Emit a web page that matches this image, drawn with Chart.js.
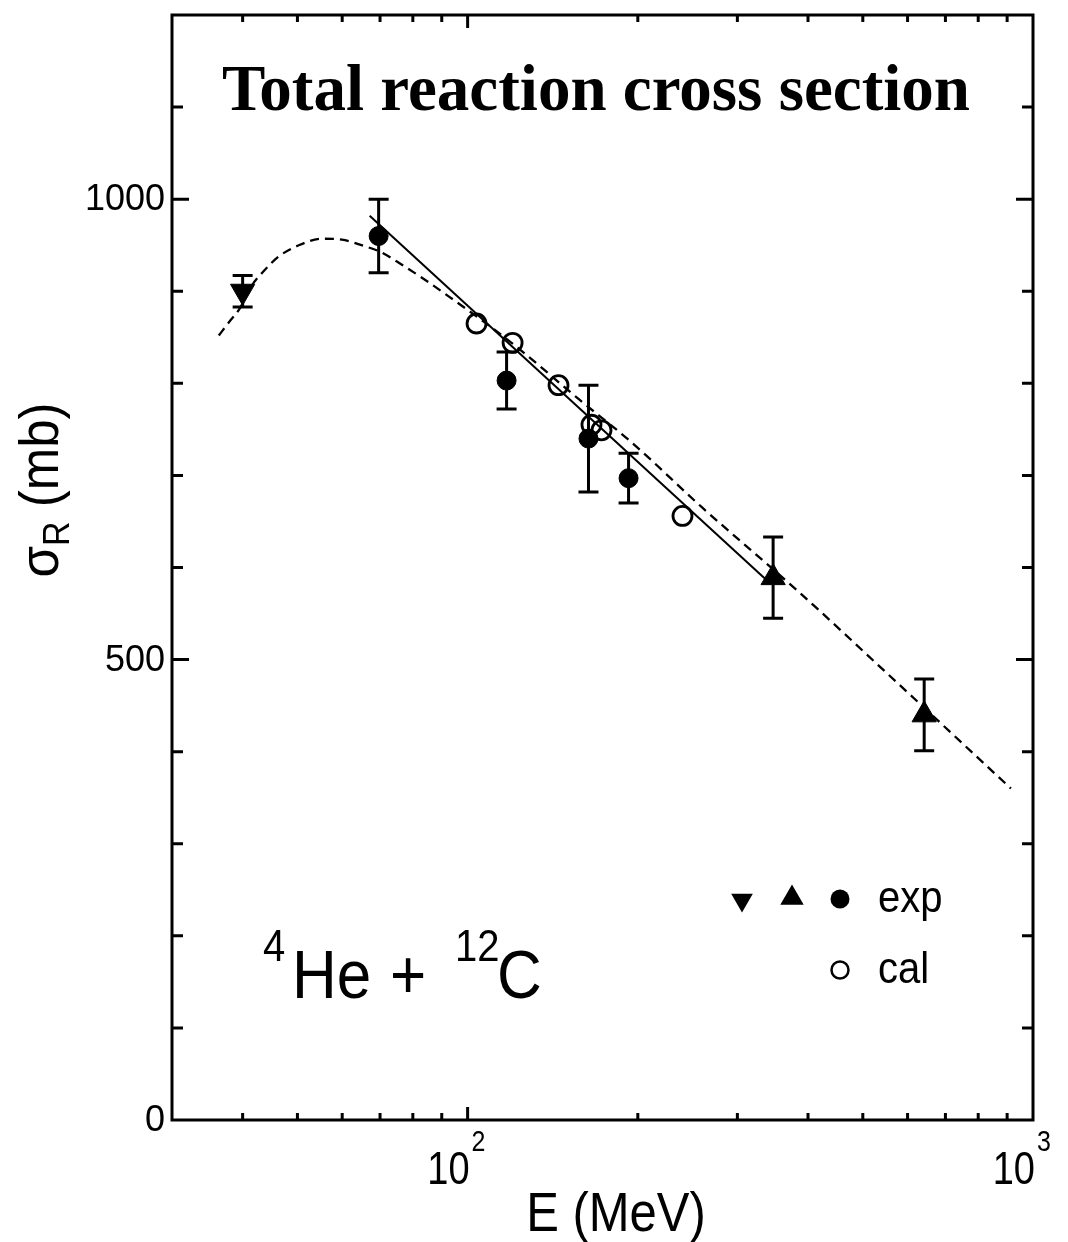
<!DOCTYPE html>
<html lang="en">
<head>
<meta charset="UTF-8">
<title>Total reaction cross section</title>
<script src="https://cdn.jsdelivr.net/npm/chart.js"></script>
<style>
  html, body { margin: 0; padding: 0; background: #fff; }
  canvas { display: block; }
</style>
</head>
<body>
<canvas id="sigmaChart" width="1068" height="1242"></canvas>
<script>
// 4He + 12C total reaction cross section

// exp, filled circles
const expCircleE = [69.6, 117.2, 163.6, 192.6];
const expCircleSigma = [960, 803, 740, 697];
const expCircleErr = [40, 31, 58, 27];

// exp, up triangles
const expUpE = [347, 642];
const expUpSigma = [589, 440];
const expUpErr = [44, 39];

// exp, down triangle
const expDownE = [40];
const expDownSigma = [900];
const expDownErr = [17];

// cal, open circles
const calE = [103.7, 120.1, 144.8, 165.6, 172.5, 239.9];
const calSigma = [865, 844, 798, 755, 749, 656];

// dashed calculation curve
const curveE = [36.3, 37.8, 39.6, 41.5, 43.6, 46.4, 50.3, 55.2, 59.9, 64.9, 70.5, 76.4, 82.9, 89.9, 119.6, 157.1, 194.9, 259, 384.5, 554.3, 914];
const curveSigma = [852, 866, 882, 906, 922, 938, 950, 957, 956, 950, 942, 929, 915, 900, 844, 783, 736, 666, 574, 484, 360];

// solid line
const fitE = [67.1, 337];
const fitSigma = [982, 587];

// axes
const xMin = 30, xMax = 1000;
const yMin = 0, yMax = 1200;
const xMinorTicks = [40, 50, 60, 70, 80, 90, 200, 300, 400, 500, 600, 700, 800, 900];
const xMajorTicks = [100];
const yMinorTicks = [100, 200, 300, 400, 600, 700, 800, 900, 1100];
const yMajorTicks = [500, 1000];
const yTickLabels = [0, 500, 1000];
const xTickLabels = [100, 1000];
const xTickExponents = ['2', '3'];

const SANS = '"Liberation Sans", Arial, Helvetica, sans-serif';
const SERIF = '"Liberation Serif", "Times New Roman", serif';

function toPoints(xs, ys) {
  return xs.map((x, i) => ({ x: x, y: ys[i] }));
}

function tri(ctx, x, y, r, down) {
  const s = down ? -1 : 1;
  ctx.beginPath();
  ctx.moveTo(x, y - s * r);
  ctx.lineTo(x + r * Math.sqrt(3) / 2, y + s * r / 2);
  ctx.lineTo(x - r * Math.sqrt(3) / 2, y + s * r / 2);
  ctx.closePath();
  ctx.fill();
}

// text stretched a little vertically, like the tall sans labels of the original
function tallText(ctx, text, x, y, sy) {
  ctx.save();
  ctx.translate(x, y);
  ctx.scale(1, sy);
  ctx.fillText(text, 0, 0);
  ctx.restore();
}

// error bars, frame, ticks and all the text
const decorations = {
  id: 'decorations',
  afterDatasetsDraw(chart) {
    const ctx = chart.ctx;
    const xs = chart.scales.x, ys = chart.scales.y;
    ctx.save();
    ctx.strokeStyle = '#000';
    ctx.lineWidth = 3;
    const groups = [
      [expCircleE, expCircleSigma, expCircleErr],
      [expUpE, expUpSigma, expUpErr],
      [expDownE, expDownSigma, expDownErr]
    ];
    groups.forEach(([es, ss, errs]) => {
      es.forEach((e, i) => {
        const px = xs.getPixelForValue(e);
        const top = ys.getPixelForValue(ss[i] + errs[i]);
        const bot = ys.getPixelForValue(ss[i] - errs[i]);
        ctx.beginPath();
        ctx.moveTo(px, top); ctx.lineTo(px, bot);
        ctx.moveTo(px - 10, top); ctx.lineTo(px + 10, top);
        ctx.moveTo(px - 10, bot); ctx.lineTo(px + 10, bot);
        ctx.stroke();
      });
    });
    ctx.restore();
  },
  afterDraw(chart) {
    const ctx = chart.ctx;
    const { left, right, top, bottom } = chart.chartArea;
    const xs = chart.scales.x, ys = chart.scales.y;
    ctx.save();
    ctx.strokeStyle = '#000';
    ctx.fillStyle = '#000';
    ctx.lineWidth = 3;
    ctx.strokeRect(left, top, right - left, bottom - top);

    // inward ticks on all four sides
    ctx.beginPath();
    const xTick = (v, len) => {
      const px = xs.getPixelForValue(v);
      ctx.moveTo(px, bottom); ctx.lineTo(px, bottom - len);
      ctx.moveTo(px, top); ctx.lineTo(px, top + len);
    };
    const yTick = (v, len) => {
      const py = ys.getPixelForValue(v);
      ctx.moveTo(left, py); ctx.lineTo(left + len, py);
      ctx.moveTo(right, py); ctx.lineTo(right - len, py);
    };
    xMinorTicks.forEach(v => xTick(v, 7));
    xMajorTicks.forEach(v => xTick(v, 13));
    yMinorTicks.forEach(v => yTick(v, 11));
    yMajorTicks.forEach(v => yTick(v, 17));
    ctx.stroke();

    // y tick labels
    ctx.font = '36px ' + SANS;
    ctx.textAlign = 'right';
    ctx.textBaseline = 'middle';
    yTickLabels.forEach(v => ctx.fillText(String(v), left - 7, ys.getPixelForValue(v) + 1));

    // x tick labels 10^n
    ctx.textBaseline = 'alphabetic';
    xTickLabels.forEach((v, i) => {
      const px = xs.getPixelForValue(v);
      ctx.font = '38px ' + SANS;
      ctx.textAlign = 'right';
      tallText(ctx, '10', px + 2, bottom + 64, 1.2);
      ctx.font = '25px ' + SANS;
      ctx.textAlign = 'left';
      tallText(ctx, xTickExponents[i], px + 4, bottom + 31, 1.2);
    });

    // x title
    ctx.font = '49px ' + SANS;
    ctx.textAlign = 'center';
    tallText(ctx, 'E (MeV)', 616, 1231, 1.12);

    // y title, rotated
    ctx.save();
    ctx.translate(58, 490);
    ctx.rotate(-Math.PI / 2);
    ctx.scale(1, 1.1);
    ctx.textAlign = 'left';
    ctx.font = '51px ' + SANS;
    const wSig = ctx.measureText('σ').width;
    const wRest = ctx.measureText(' (mb)').width;
    ctx.font = '34px ' + SANS;
    const wR = ctx.measureText('R').width;
    let x0 = -(wSig + wR + wRest) / 2;
    ctx.font = '51px ' + SANS;
    ctx.fillText('σ', x0, 0);
    ctx.font = '34px ' + SANS;
    ctx.fillText('R', x0 + wSig, 10);
    ctx.font = '51px ' + SANS;
    ctx.fillText(' (mb)', x0 + wSig + wR, 0);
    ctx.restore();

    // title
    ctx.font = 'bold 65px ' + SERIF;
    ctx.textAlign = 'center';
    ctx.fillText('Total reaction cross section', 596, 110);

    // reaction label
    ctx.textAlign = 'left';
    ctx.font = '40px ' + SANS;
    tallText(ctx, '4', 263, 961, 1.1);
    tallText(ctx, '12', 455, 961, 1.1);
    ctx.font = '62px ' + SANS;
    tallText(ctx, 'He', 292, 998, 1.12);
    tallText(ctx, '+', 390, 998, 1.12);
    tallText(ctx, 'C', 497, 998, 1.12);

    // legend
    tri(ctx, 742, 900, 12.5, true);
    tri(ctx, 792, 898, 13.5, false);
    ctx.beginPath();
    ctx.arc(840, 899, 9.5, 0, Math.PI * 2);
    ctx.fill();
    ctx.lineWidth = 2.5;
    ctx.beginPath();
    ctx.arc(840, 970, 8.5, 0, Math.PI * 2);
    ctx.stroke();
    ctx.font = '40px ' + SANS;
    tallText(ctx, 'exp', 878, 912, 1.1);
    tallText(ctx, 'cal', 878, 983, 1.1);
    ctx.restore();
  }
};

new Chart(document.getElementById('sigmaChart'), {
  type: 'scatter',
  data: {
    datasets: [
      {
        label: 'exp',
        data: toPoints(expCircleE, expCircleSigma),
        pointStyle: 'circle',
        pointRadius: 9.5,
        backgroundColor: '#000',
        borderColor: '#000',
        borderWidth: 1,
        order: 1
      },
      {
        label: 'exp up',
        data: toPoints(expUpE, expUpSigma),
        pointStyle: 'triangle',
        pointRadius: 14,
        backgroundColor: '#000',
        borderColor: '#000',
        borderWidth: 1,
        order: 1
      },
      {
        label: 'exp down',
        data: toPoints(expDownE, expDownSigma),
        pointStyle: 'triangle',
        rotation: 180,
        pointRadius: 14,
        backgroundColor: '#000',
        borderColor: '#000',
        borderWidth: 1,
        order: 1
      },
      {
        label: 'cal',
        data: toPoints(calE, calSigma),
        pointStyle: 'circle',
        pointRadius: 9.5,
        backgroundColor: 'rgba(0,0,0,0)',
        borderColor: '#000',
        borderWidth: 2.8,
        order: 2
      },
      {
        label: 'fit',
        data: toPoints(fitE, fitSigma),
        showLine: true,
        borderColor: '#000',
        borderWidth: 2,
        pointRadius: 0,
        order: 3
      },
      {
        label: 'curve',
        data: toPoints(curveE, curveSigma),
        showLine: true,
        borderColor: '#000',
        borderWidth: 2.3,
        borderDash: [9, 6],
        cubicInterpolationMode: 'monotone',
        pointRadius: 0,
        order: 4
      }
    ]
  },
  options: {
    responsive: false,
    animation: false,
    events: [],
    layout: { padding: { left: 172, right: 35, top: 13, bottom: 122 } },
    plugins: { legend: { display: false }, tooltip: { enabled: false } },
    scales: {
      x: { type: 'logarithmic', min: xMin, max: xMax, display: false },
      y: { type: 'linear', min: yMin, max: yMax, display: false }
    }
  },
  plugins: [decorations]
});
</script>
</body>
</html>
